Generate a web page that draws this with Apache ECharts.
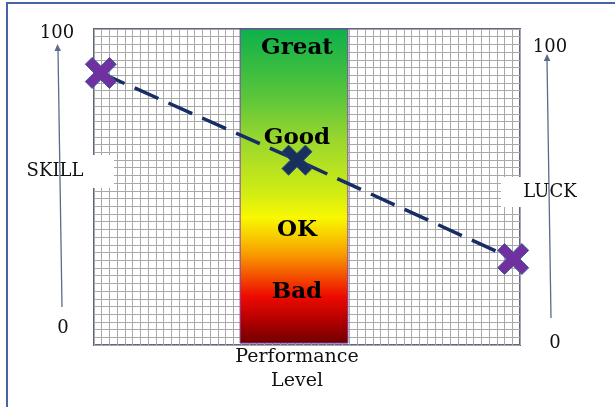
<!DOCTYPE html>
<html lang="en">
<head>
  <meta charset="UTF-8">
  <title>Skill vs Luck</title>
  <script src="https://cdn.jsdelivr.net/npm/echarts@6/dist/echarts.min.js"></script>
  <style>
    body { margin: 0; background: #fff; overflow: hidden; }
    #chart { width: 615px; height: 407px; }
  </style>
</head>
<body>
  <div id="chart"></div>
  <script>
    // skill (left scale) -> luck (right scale), 0..100 on both axes
    const trendPoints = [[1.6, 86.1], [47.65, 58.5], [98.4, 27.2]];
    const outerMarks = [[1.6, 86.1], [98.4, 27.2]];
    const centerMark = [[47.65, 58.5]];
    // performance band (x range) and its level labels
    const bandRange = [34.3, 59.6];
    const levelNames = ['Great', 'Good', 'OK', 'Bad'];
    const levelY = [94.0, 65.5, 36.4, 16.8];
    const levelX = 47.65;

    const xCells = 55, yCells = 41;

    const crossPath = 'path://M0,2.2L2.2,0L5,2.8L7.8,0L10,2.2L7.2,5L10,7.8L7.8,10L5,7.2L2.2,10L0,7.8L2.8,5Z';
    const serif = 'DejaVu Serif';

    const chart = echarts.init(document.getElementById('chart'));

    const option = {
      animation: false,
      backgroundColor: '#fff',
      grid: {
        left: 94, top: 29, width: 426, height: 316,
        show: true, borderColor: '#5d6880', borderWidth: 2
      },
      xAxis: {
        type: 'value', min: 0, max: 100, interval: 100 / xCells,
        axisLine: { show: false }, axisTick: { show: false }, axisLabel: { show: false },
        splitLine: { show: true, lineStyle: { color: '#a8a8a8', width: 1 } }
      },
      yAxis: {
        type: 'value', min: 0, max: 100, interval: 100 / yCells,
        axisLine: { show: false }, axisTick: { show: false }, axisLabel: { show: false },
        splitLine: { show: true, lineStyle: { color: '#a8a8a8', width: 1 } }
      },
      series: [
        {
          // gradient band + performance line
          type: 'line',
          data: [],
          clip: false,
          markArea: {
            silent: true,
            itemStyle: {
              opacity: 1,
              borderColor: '#7a3aa8', borderWidth: 1,
              color: {
                type: 'linear', x: 0, y: 0, x2: 0, y2: 1,
                colorStops: [
                  { offset: 0, color: '#0cb04b' },
                  { offset: 0.22, color: '#5cc63a' },
                  { offset: 0.35, color: '#98d62e' },
                  { offset: 0.52, color: '#d0ec14' },
                  { offset: 0.6, color: '#f8f800' },
                  { offset: 0.66, color: '#f8cc00' },
                  { offset: 0.72, color: '#f89800' },
                  { offset: 0.85, color: '#ee0a00' },
                  { offset: 0.93, color: '#b00000' },
                  { offset: 1, color: '#6e0000' }
                ]
              }
            },
            data: [[{ coord: [bandRange[0], 100] }, { coord: [bandRange[1], 0.6] }]]
          },
          markLine: {
            silent: true,
            symbol: 'none',
            label: { show: false },
            lineStyle: { color: '#1c2e5e', width: 1.5, type: 'solid', opacity: 1 },
            data: [[{ coord: [47.2, 100] }, { coord: [48.1, -1.6] }]]
          }
        },
        {
          type: 'scatter',
          data: levelNames.map((n, i) => [levelX, levelY[i], n]),
          symbolSize: 0,
          z: 3,
          itemStyle: { opacity: 1 },
          label: {
            show: true, position: 'inside',
            formatter: p => p.value[2],
            fontFamily: serif, fontWeight: 'bold', fontSize: 23, color: '#000'
          }
        },
        {
          type: 'line',
          data: trendPoints,
          symbol: 'none',
          z: 4,
          lineStyle: { color: '#172d66', width: 3.5, type: [26, 11], opacity: 1 }
        },
        {
          type: 'scatter',
          data: outerMarks,
          symbol: crossPath,
          symbolSize: 31,
          z: 5,
          itemStyle: { color: '#7030a0', borderColor: '#3d5c9c', borderWidth: 1, opacity: 1 }
        },
        {
          type: 'scatter',
          data: centerMark,
          symbol: crossPath,
          symbolSize: 30,
          z: 5,
          itemStyle: { color: '#17305e', borderColor: '#2a4a80', borderWidth: 1, opacity: 1 }
        }
      ],
      graphic: {
        elements: [
          // page frame (left and top edges only)
          { type: 'polyline', z: 30, shape: { points: [[7, 407], [7, 3], [615, 3]] }, style: { stroke: '#4466a4', lineWidth: 2, fill: null } },
          // white label boxes
          { type: 'rect', z: 10, shape: { x: 20, y: 155, width: 94, height: 33 }, style: { fill: '#fff' } },
          { type: 'rect', z: 10, shape: { x: 501, y: 177, width: 80, height: 30 }, style: { fill: '#fff' } },
          // left arrow
          { type: 'polyline', z: 20, shape: { points: [[62, 307], [58, 50]] }, style: { stroke: '#5a6b8c', lineWidth: 1.3, fill: null } },
          { type: 'polygon', z: 20, shape: { points: [[57.5, 44], [54.5, 51], [61, 51]] }, style: { fill: '#5a6b8c' } },
          // right arrow
          { type: 'polyline', z: 20, shape: { points: [[551, 318], [547, 60]] }, style: { stroke: '#5a6b8c', lineWidth: 1.3, fill: null } },
          { type: 'polygon', z: 20, shape: { points: [[547, 54], [543.8, 61], [550.4, 61]] }, style: { fill: '#5a6b8c' } },
          // scale texts
          { type: 'text', z: 21, style: { text: '100', x: 57, y: 33, align: 'center', verticalAlign: 'middle', font: '18px "DejaVu Serif"', fill: '#111' } },
          { type: 'text', z: 21, style: { text: '0', x: 63, y: 328, align: 'center', verticalAlign: 'middle', font: '18px "DejaVu Serif"', fill: '#111' } },
          { type: 'text', z: 21, style: { text: 'SKILL', x: 55, y: 171, align: 'center', verticalAlign: 'middle', font: '18px "DejaVu Serif"', fill: '#111' } },
          { type: 'text', z: 21, style: { text: '100', x: 550, y: 47, align: 'center', verticalAlign: 'middle', font: '18px "DejaVu Serif"', fill: '#111' } },
          { type: 'text', z: 21, style: { text: '0', x: 555, y: 343, align: 'center', verticalAlign: 'middle', font: '18px "DejaVu Serif"', fill: '#111' } },
          { type: 'text', z: 21, style: { text: 'LUCK', x: 550, y: 192, align: 'center', verticalAlign: 'middle', font: '18px "DejaVu Serif"', fill: '#111' } },
          { type: 'text', z: 21, style: { text: 'Performance', x: 297, y: 357, align: 'center', verticalAlign: 'middle', font: '19px "DejaVu Serif"', fill: '#111' } },
          { type: 'text', z: 21, style: { text: 'Level', x: 297, y: 381, align: 'center', verticalAlign: 'middle', font: '19px "DejaVu Serif"', fill: '#111' } }
        ]
      }
    };

    chart.setOption(option);
  </script>
</body>
</html>
